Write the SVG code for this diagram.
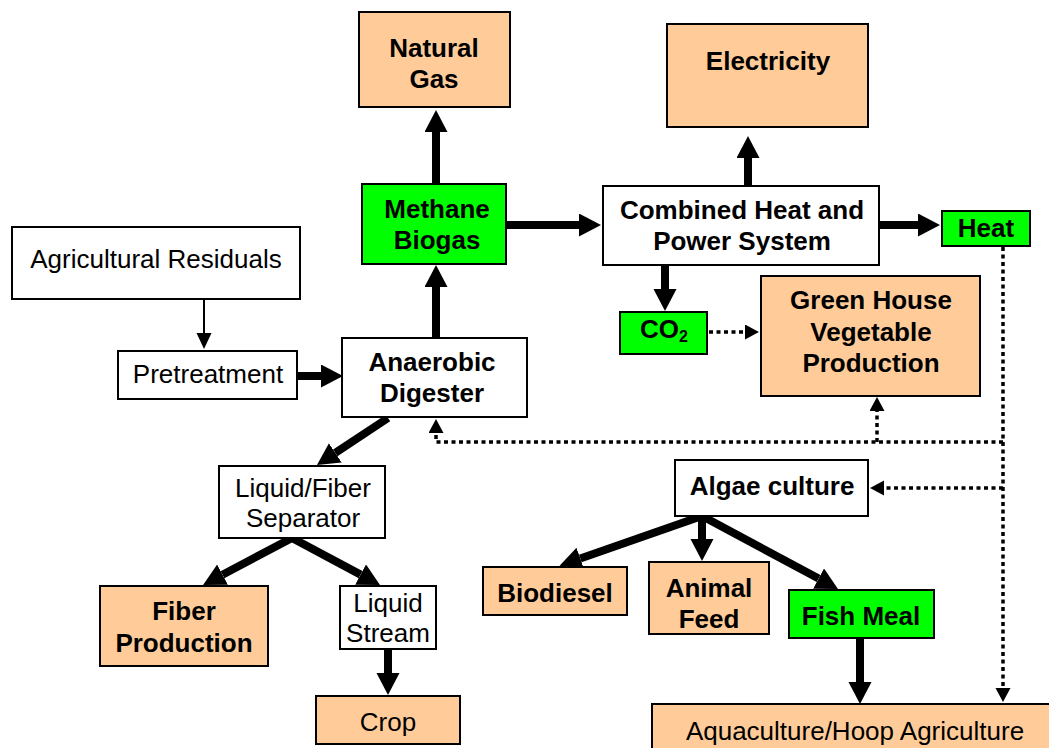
<svg xmlns="http://www.w3.org/2000/svg" width="1049" height="748" viewBox="0 0 1049 748">
<defs>
<style>
rect{stroke:#000;stroke-width:2}
.w{fill:#fff}.p{fill:#FFCC99}.g{fill:#00FF00}
text{font-family:"Liberation Sans",Arial,sans-serif;font-size:26px;text-anchor:middle;fill:#000}
.b{font-weight:bold}
.thick{stroke:#000;stroke-width:8;fill:none;marker-end:url(#hb)}
.thin{stroke:#000;stroke-width:2;fill:none;marker-end:url(#hs)}
.dot{stroke:#000;stroke-width:3.5;stroke-dasharray:4 3.5;fill:none}
.dota{marker-end:url(#hd)}
</style>
<marker id="hb" markerUnits="userSpaceOnUse" markerWidth="23" markerHeight="24" refX="0" refY="11.5" orient="auto"><path d="M0,0 L22,11.5 L0,23 z" fill="#000"/></marker>
<marker id="hs" markerUnits="userSpaceOnUse" markerWidth="17" markerHeight="16" refX="0" refY="7.5" orient="auto"><path d="M0,0 L16,7.5 L0,15 z" fill="#000"/></marker>
<marker id="hd" markerUnits="userSpaceOnUse" markerWidth="16" markerHeight="16" refX="0" refY="7.5" orient="auto"><path d="M0,0 L14,7.5 L0,15 z" fill="#000"/></marker>
</defs>
<rect x="0" y="0" width="1049" height="748" fill="#fff" style="stroke:none"/>
<g id="connectors">
<line class="thin" x1="204" y1="300" x2="204" y2="333"/>
<line class="thick" x1="297" y1="376" x2="321" y2="376"/>
<line class="thick" x1="436" y1="338" x2="436" y2="287"/>
<line class="thick" x1="436" y1="184" x2="436" y2="132"/>
<line class="thick" x1="506" y1="225" x2="579" y2="225"/>
<line class="thick" x1="748" y1="186" x2="748" y2="158"/>
<line class="thick" x1="879" y1="225" x2="918" y2="225"/>
<line class="thick" x1="665" y1="265" x2="665" y2="289"/>
<line class="dot dota" x1="709" y1="332" x2="745" y2="332"/>
<line class="dot dota" x1="1003" y1="247" x2="1003" y2="688"/>
<path class="dot dota" d="M1003,442 L436,442 L436,433"/>
<line class="dot dota" x1="877" y1="442" x2="877" y2="411"/>
<line class="dot dota" x1="1003" y1="488" x2="884" y2="488"/>
<line class="thick" x1="388" y1="418" x2="335.3" y2="452.9"/>
<line class="thick" x1="292" y1="538" x2="222.5" y2="574.7"/>
<line class="thick" x1="292" y1="538" x2="360.6" y2="574.6"/>
<line class="thick" x1="388" y1="649" x2="388" y2="673"/>
<line class="thick" x1="702" y1="516" x2="580.3" y2="558.5"/>
<line class="thick" x1="702" y1="516" x2="702" y2="539"/>
<line class="thick" x1="702" y1="516" x2="818.6" y2="578.6"/>
<line class="thick" x1="860" y1="638" x2="860" y2="682"/>
</g>
<g id="natural_gas"><rect class="p" x="359" y="12" width="151" height="95"/><text class="b" x="434" y="57">Natural</text><text class="b" x="434" y="88">Gas</text></g>
<g id="electricity"><rect class="p" x="667" y="24" width="201" height="103"/><text class="b" x="768" y="70">Electricity</text></g>
<g id="methane_biogas"><rect class="g" x="362" y="184" width="144" height="80"/><text class="b" x="437" y="218">Methane</text><text class="b" x="437" y="249">Biogas</text></g>
<g id="chp"><rect class="w" x="603" y="186" width="276" height="79"/><text class="b" x="742" y="218.5">Combined Heat and</text><text class="b" x="742" y="250">Power System</text></g>
<g id="heat"><rect class="g" x="942" y="211" width="88" height="35"/><text class="b" x="986" y="237">Heat</text></g>
<g id="agricultural_residuals"><rect class="w" x="12" y="227" width="288" height="72"/><text x="156" y="268">Agricultural Residuals</text></g>
<g id="co2"><rect class="g" x="620" y="312" width="87" height="42"/><text class="b" x="664" y="338">CO<tspan font-size="16" dy="4">2</tspan></text></g>
<g id="green_house"><rect class="p" x="761" y="276" width="219" height="120"/><text class="b" x="871" y="309">Green House</text><text class="b" x="871" y="341">Vegetable</text><text class="b" x="871" y="372">Production</text></g>
<g id="pretreatment"><rect class="w" x="118" y="351" width="179" height="48"/><text x="208" y="383">Pretreatment</text></g>
<g id="anaerobic_digester"><rect class="w" x="342" y="338" width="185" height="79"/><text class="b" x="432" y="371">Anaerobic</text><text class="b" x="432" y="402">Digester</text></g>
<g id="separator"><rect class="w" x="219" y="466" width="166" height="72"/><text x="303" y="497">Liquid/Fiber</text><text x="303" y="527">Separator</text></g>
<g id="algae_culture"><rect class="w" x="675" y="460" width="193" height="56"/><text class="b" x="772" y="495">Algae culture</text></g>
<g id="biodiesel"><rect class="p" x="483" y="567" width="144" height="48"/><text class="b" x="555" y="602">Biodiesel</text></g>
<g id="animal_feed"><rect class="p" x="649" y="562" width="120" height="72"/><text class="b" x="709" y="597">Animal</text><text class="b" x="709" y="628">Feed</text></g>
<g id="fish_meal"><rect class="g" x="789" y="590" width="145" height="48"/><text class="b" x="861" y="625">Fish Meal</text></g>
<g id="fiber_production"><rect class="p" x="100" y="586" width="168" height="80"/><text class="b" x="184" y="620">Fiber</text><text class="b" x="184" y="652">Production</text></g>
<g id="liquid_stream"><rect class="w" x="340" y="586" width="96" height="63"/><text x="388" y="612">Liquid</text><text x="388" y="642">Stream</text></g>
<g id="crop"><rect class="p" x="316" y="696" width="144" height="48"/><text x="388" y="731">Crop</text></g>
<g id="aquaculture"><rect class="p" x="652" y="704" width="410" height="60"/><text x="855" y="740">Aquaculture/Hoop Agriculture</text></g>
</svg>
